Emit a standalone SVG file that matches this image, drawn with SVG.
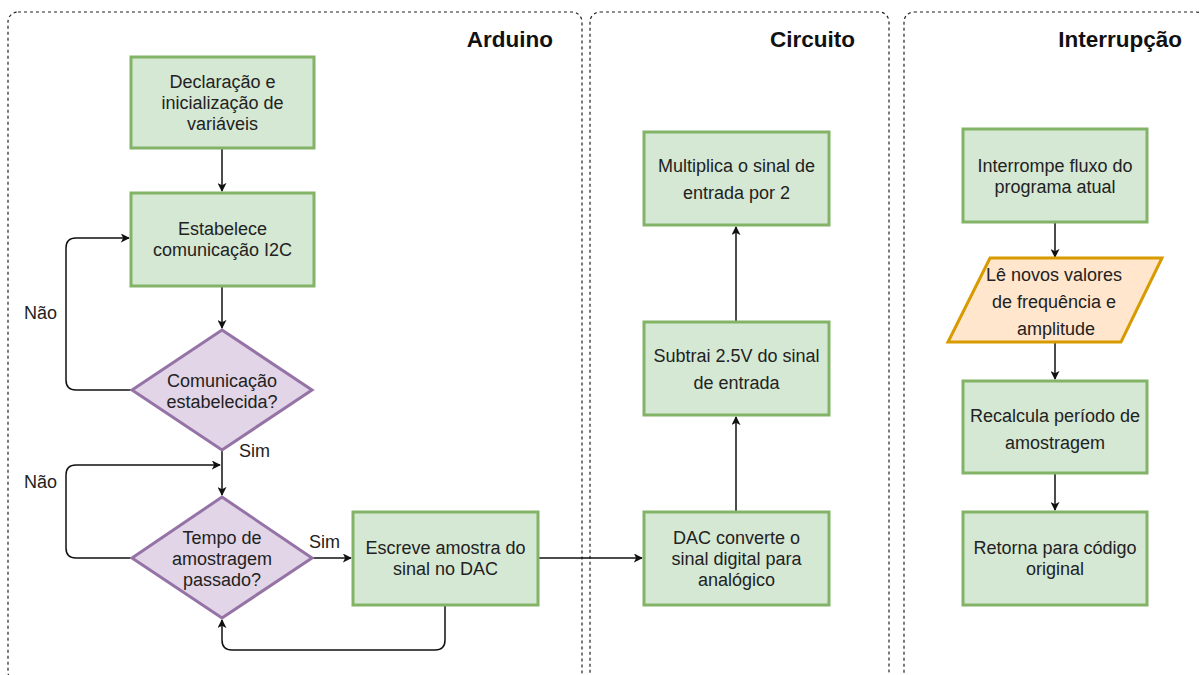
<svg xmlns="http://www.w3.org/2000/svg" width="1201" height="675" viewBox="0 0 1201 675">
<style>
.lane{fill:none;stroke:#222;stroke-width:1.2;stroke-dasharray:3 3}
.title{font-family:"Liberation Sans",Arial,sans-serif;font-size:22.5px;font-weight:bold;fill:#111;text-anchor:end}
.box{fill:#d5e8d4;stroke:#82b366;stroke-width:3}
.dia{fill:#e1d5e7;stroke:#9673a6;stroke-width:3}
.io{fill:#ffe6cc;stroke:#d79b00;stroke-width:3}
.t{font-family:"Liberation Sans",Arial,sans-serif;font-size:18px;fill:#222;text-anchor:middle}
.lbl{font-family:"Liberation Sans",Arial,sans-serif;font-size:18px;fill:#222}
.edge{fill:none;stroke:#111;stroke-width:1.5}
</style>
<defs>
<marker id="arr" viewBox="0 0 10 10" refX="9" refY="5" markerWidth="9" markerHeight="9" markerUnits="userSpaceOnUse" orient="auto">
<path d="M0,0 L10,5 L0,10 L2.5,5 Z" fill="#111"/>
</marker>
</defs>
<rect width="1201" height="675" fill="#fff"/>
<g id="lanes">
<g id="lane-arduino"><rect class="lane" x="8" y="12" width="574" height="670" rx="10"/><text class="title" x="553" y="47">Arduino</text></g>
<g id="lane-circuito"><rect class="lane" x="590" y="12" width="299" height="670" rx="10"/><text class="title" x="855" y="47">Circuito</text></g>
<g id="lane-interrupcao"><rect class="lane" x="904" y="12" width="302" height="670" rx="10"/><text class="title" x="1182" y="47">Interrupção</text></g>
</g>
<g id="connectors">
<path class="edge" d="M222,148 V191" marker-end="url(#arr)"/>
<path class="edge" d="M222,286 V328" marker-end="url(#arr)"/>
<path class="edge" d="M132,390 H76 Q66,390 66,380 V248 Q66,238 76,238 H129" marker-end="url(#arr)"/>
<path class="edge" d="M222,450 V495" marker-end="url(#arr)"/>
<path class="edge" d="M132,558 H76 Q66,558 66,548 V475 Q66,465 76,465 H220" marker-end="url(#arr)"/>
<path class="edge" d="M312,558 H351" marker-end="url(#arr)"/>
<path class="edge" d="M445,605 V640 Q445,650 435,650 H232 Q222,650 222,640 V620" marker-end="url(#arr)"/>
<path class="edge" d="M538,558 H642" marker-end="url(#arr)"/>
<path class="edge" d="M736,512 V417" marker-end="url(#arr)"/>
<path class="edge" d="M736,322 V227" marker-end="url(#arr)"/>
<path class="edge" d="M1055,222 V257" marker-end="url(#arr)"/>
<path class="edge" d="M1055,342 V379" marker-end="url(#arr)"/>
<path class="edge" d="M1055,473 V510" marker-end="url(#arr)"/>
<text class="lbl" x="24" y="319">Não</text>
<text class="lbl" x="239" y="457">Sim</text>
<text class="lbl" x="24" y="488">Não</text>
<text class="lbl" x="309" y="548">Sim</text>
</g>
<g id="n-declaracao"><rect class="box" x="131" y="57" width="183" height="91"/><text class="t" x="222.5" y="88">Declaração e</text><text class="t" x="222.5" y="109">inicialização de</text><text class="t" x="222.5" y="130">variáveis</text></g>
<g id="n-estabelece"><rect class="box" x="131" y="193" width="183" height="93"/><text class="t" x="222.5" y="235">Estabelece</text><text class="t" x="222.5" y="256">comunicação I2C</text></g>
<g id="n-comunicacao"><polygon class="dia" points="222,330 312,390 222,450 132,390"/><text class="t" x="222" y="387">Comunicação</text><text class="t" x="222" y="408">estabelecida?</text></g>
<g id="n-tempo"><polygon class="dia" points="222,497 312,558 222,618 132,558"/><text class="t" x="222" y="544">Tempo de</text><text class="t" x="222" y="565">amostragem</text><text class="t" x="222" y="586">passado?</text></g>
<g id="n-escreve"><rect class="box" x="353" y="512" width="185" height="93"/><text class="t" x="445.5" y="554">Escreve amostra do</text><text class="t" x="445.5" y="575">sinal no DAC</text></g>
<g id="n-multiplica"><rect class="box" x="644" y="132" width="185" height="93"/><text class="t" x="736.5" y="172">Multiplica o sinal de</text><text class="t" x="736.5" y="199">entrada por 2</text></g>
<g id="n-subtrai"><rect class="box" x="644" y="322" width="185" height="93"/><text class="t" x="736.5" y="362">Subtrai 2.5V do sinal</text><text class="t" x="736.5" y="389">de entrada</text></g>
<g id="n-dac"><rect class="box" x="644" y="512" width="185" height="93"/><text class="t" x="736.5" y="544">DAC converte o</text><text class="t" x="736.5" y="565">sinal digital para</text><text class="t" x="736.5" y="586">analógico</text></g>
<g id="n-interrompe"><rect class="box" x="963" y="129" width="184" height="93"/><text class="t" x="1055" y="172">Interrompe fluxo do</text><text class="t" x="1055" y="193">programa atual</text></g>
<g id="n-le"><polygon class="io" points="990,258 1162,258 1121,342 948,342"/><text class="t" x="1054" y="281">Lê novos valores</text><text class="t" x="1054" y="308">de frequência e</text><text class="t" x="1056" y="335">amplitude</text></g>
<g id="n-recalcula"><rect class="box" x="963" y="381" width="184" height="92"/><text class="t" x="1055" y="422">Recalcula período de</text><text class="t" x="1055" y="449">amostragem</text></g>
<g id="n-retorna"><rect class="box" x="963" y="512" width="184" height="93"/><text class="t" x="1055" y="554">Retorna para código</text><text class="t" x="1055" y="575">original</text></g>
</svg>
